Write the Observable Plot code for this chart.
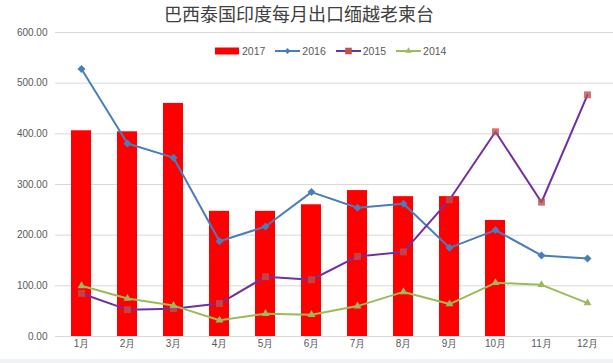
<!DOCTYPE html>
<html>
<head>
<meta charset="utf-8">
<script src="https://cdn.jsdelivr.net/npm/d3@7"></script>
<script src="https://cdn.jsdelivr.net/npm/@observablehq/plot@0.6"></script>
<style>
  html, body { margin: 0; padding: 0; background: #F1F2F6; }
  #wrap { position: relative; width: 613px; height: 359px; background: #fff; overflow: hidden; }
  #title { height: 24px; line-height: 26px; text-align: center; font-family: "Noto Sans CJK SC", sans-serif; font-size: 18px; color: #404040; padding-right: 15px; white-space: nowrap; }
  #legend { position: absolute; top: 44px; left: 215px; display: flex; align-items: center; font-family: "Liberation Sans", sans-serif; font-size: 10.5px; color: #595959; }
  #legend .item { display: flex; align-items: center; margin-right: 10px; }
  #legend svg { display: block; margin-right: 2px; }
</style>
</head>
<body>
<div id="wrap">
  <div id="title">巴西泰国印度每月出口缅越老柬台</div>
  <div id="legend"></div>
  <div id="chart"></div>
</div>
<script>
const months = ["1月","2月","3月","4月","5月","6月","7月","8月","9月","10月","11月","12月"];
const yTicks = [0, 100, 200, 300, 400, 500, 600];
const seriesNames = ["2017", "2016", "2015", "2014"];
const v2017 = [406, 404, 460, 247, 247, 260, 288, 276, 276, 229, null, null];
const v2016 = [528, 381, 353, 188, 217, 285, 254, 262, 175, 210, 160, 154];
const v2015 = [85, 53, 55, 65, 118, 112, 158, 167, 270, 404, 265, 477];
const v2014 = [100, 75, 61, 32, 45, 43, 60, 88, 64, 106, 102, 66];

const toRows = (vals) => months.map((m, i) => ({month: m, value: vals[i]})).filter(d => d.value != null);
const bars = toRows(v2017);
const s2016 = toRows(v2016);
const s2015 = toRows(v2015);
const s2014 = toRows(v2014);

const cBar = "#FF0000", c2016 = "#4A7EBB", c2015 = "#7030A0", c2015m = "#C0504D", c2014 = "#9BBB59";

const chart = Plot.plot({
  width: 613,
  height: 335,
  marginTop: 8,
  marginBottom: 23,
  marginLeft: 55,
  marginRight: 0,
  style: {fontFamily: "Liberation Sans, sans-serif", fontSize: "10px", color: "#595959", background: "transparent"},
  x: {type: "band", domain: months, paddingInner: 0.57, paddingOuter: 0.285, label: null, tickSize: 0, tickPadding: 3},
  y: {domain: [0, 600], ticks: yTicks, tickFormat: d3.format(".2f"), label: null, tickSize: 0, tickPadding: 8},
  marks: [
    Plot.gridY(yTicks, {stroke: "#D9D9D9", strokeOpacity: 1, strokeWidth: 1}),
    Plot.barY(bars, {x: "month", y: "value", fill: cBar}),
    Plot.line(s2016, {x: "month", y: "value", stroke: c2016, strokeWidth: 2, curve: "linear"}),
    Plot.dot(s2016, {x: "month", y: "value", symbol: "diamond2", r: 3.6, fill: c2016, stroke: "none"}),
    Plot.line(s2015, {x: "month", y: "value", stroke: c2015, strokeWidth: 2}),
    Plot.dot(s2015, {x: "month", y: "value", symbol: "square2", r: 4.4, fill: c2015m, fillOpacity: 0.8, stroke: "none"}),
    Plot.line(s2014, {x: "month", y: "value", stroke: c2014, strokeWidth: 2}),
    Plot.dot(s2014, {x: "month", y: "value", symbol: "triangle2", r: 3.8, fill: c2014, stroke: "none"})
  ]
});
document.getElementById("chart").appendChild(chart);

// legend
const legend = d3.select("#legend");
const legendSpec = [
  {name: seriesNames[0], kind: "bar", color: cBar},
  {name: seriesNames[1], kind: "line", color: c2016, marker: d3.symbolDiamond2, mcolor: c2016, msize: 22},
  {name: seriesNames[2], kind: "line", color: c2015, marker: d3.symbolSquare2, mcolor: c2015m, msize: 55},
  {name: seriesNames[3], kind: "line", color: c2014, marker: d3.symbolTriangle2, mcolor: c2014, msize: 30}
];
legendSpec.forEach((s, i) => {
  const item = legend.append("div").attr("class", "item");
  const svg = item.append("svg").attr("width", 25).attr("height", 14);
  if (s.kind === "bar") {
    svg.append("rect").attr("x", 0).attr("y", 3.5).attr("width", 24).attr("height", 7).attr("fill", s.color);
  } else {
    svg.append("line").attr("x1", 0).attr("x2", 25).attr("y1", 7).attr("y2", 7).attr("stroke", s.color).attr("stroke-width", 2);
    svg.append("path").attr("d", d3.symbol(s.marker, s.msize)()).attr("transform", "translate(12.5,7)").attr("fill", s.mcolor);
  }
  item.append("span").text(s.name);
});
</script>
</body>
</html>
